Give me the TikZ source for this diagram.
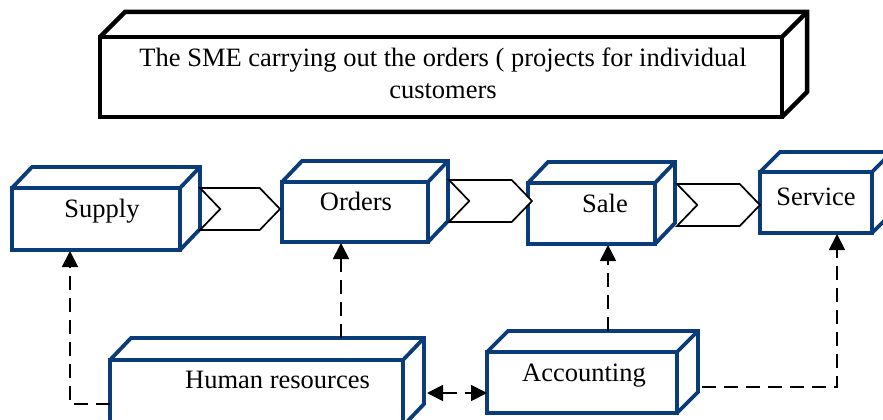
\documentclass[tikz,border=0pt]{standalone}
\usepackage{fontspec}
\setmainfont{Liberation Serif}
\usetikzlibrary{arrows.meta,shapes.symbols}
\definecolor{boxblue}{RGB}{10,60,122}
\newcommand\lblfont{\fontsize{26.5}{32}\selectfont}
\newcommand\boxdepth[3]{%
  \draw[#3] (#1.north west) -- ++(#2) -- ([shift={(#2)}]#1.north east) coordinate (#1-bne) -- ([shift={(#2)}]#1.south east) -- (#1.south east);
  \draw[#3] (#1.north east) -- (#1-bne);
  \coordinate (#1-top) at ([shift={(#2)}]#1.north);
}
\tikzset{
  front/.style={draw=boxblue, line width=3.8pt, fill=white, rectangle, anchor=north west, inner sep=0pt, outer sep=0pt},
  frontblack/.style={front, draw=black, line width=4.5pt},
  edgeblue/.style={draw=boxblue, line width=3.8pt, line join=miter},
  edgeblack/.style={draw=black, line width=4.5pt, line join=miter},
  lbl/.style={font=\lblfont, inner sep=0pt, text=black},
  chev/.style={shape=signal, signal from=west, signal to=east, signal pointer angle=92, draw=black, line width=1.7pt, fill=white, inner sep=0pt, outer sep=0pt, minimum height=42pt},
  conn/.style={draw=black, line width=1.8pt, dash pattern=on 14pt off 8pt, -{Triangle[length=16pt,width=16pt]}, shorten >=1pt},
}
\begin{document}
\begin{tikzpicture}[x=1pt, y=-1pt]
\fill[white] (0,0) rectangle (883,420);
\useasboundingbox (0,0) rectangle (883,420);
% top box
\node[frontblack, minimum width=682pt, minimum height=80pt] (sme) at (100,37) {};
\boxdepth{sme}{25,-25}{edgeblack}
\node[lbl, align=center] (sme-t) at (443,73) {The SME carrying out the orders ( projects for individual\\customers};
% process boxes
\node[front, minimum width=168pt, minimum height=62pt] (supply) at (12,188) {};
\boxdepth{supply}{20,-21}{edgeblue}
\node[lbl, anchor=base] (supply-t) at (102,217) {Supply};
\node[front, minimum width=146pt, minimum height=60pt] (orders) at (282,182) {};
\boxdepth{orders}{20,-21}{edgeblue}
\node[lbl, anchor=base] (orders-t) at (356,210) {Orders};
\node[front, minimum width=127pt, minimum height=61pt] (sale) at (528,183) {};
\boxdepth{sale}{20,-21}{edgeblue}
\node[lbl, anchor=base] (sale-t) at (605,212) {Sale};
\node[front, minimum width=112pt, minimum height=61pt] (service) at (760,172) {};
\boxdepth{service}{20,-20}{edgeblue}
\node[lbl, anchor=base] (service-t) at (816,205) {Service};
% bottom boxes
\node[front, minimum width=293pt, minimum height=66pt] (hr) at (110,360) {};
\boxdepth{hr}{21,-22}{edgeblue}
\node[lbl, anchor=base] (hr-t) at (277.5,388) {Human resources};
\node[front, minimum width=190pt, minimum height=61pt] (acc) at (487,352) {};
\boxdepth{acc}{21,-21}{edgeblue}
\node[lbl, anchor=base] (acc-t) at (584,381) {Accounting};
% chevrons
\node[chev, minimum width=80pt] (c1) at (240,209) {};
\node[chev, minimum width=83pt] (c2) at (490.5,201) {};
\node[chev, minimum width=83pt] (c3) at (718.5,205) {};
% connectors
\draw[conn] (hr.west |- 0,404) -| (supply.south -| 70,0);
\draw[conn] (hr-top -| 341,0) -- (orders.south -| 341,0);
\draw[conn] (acc-top -| 608,0) -- (sale.south -| 608,0);
\draw[conn, shorten <=4pt] (acc-bne |- 0,387) -| (service.south -| 837,0);
\draw[conn, {Triangle[length=16pt,width=16pt]}-{Triangle[length=16pt,width=16pt]}, shorten <=3pt, shorten >=0pt] (hr-bne |- 0,393) -- (acc.west |- 0,393);
\end{tikzpicture}
\end{document}
